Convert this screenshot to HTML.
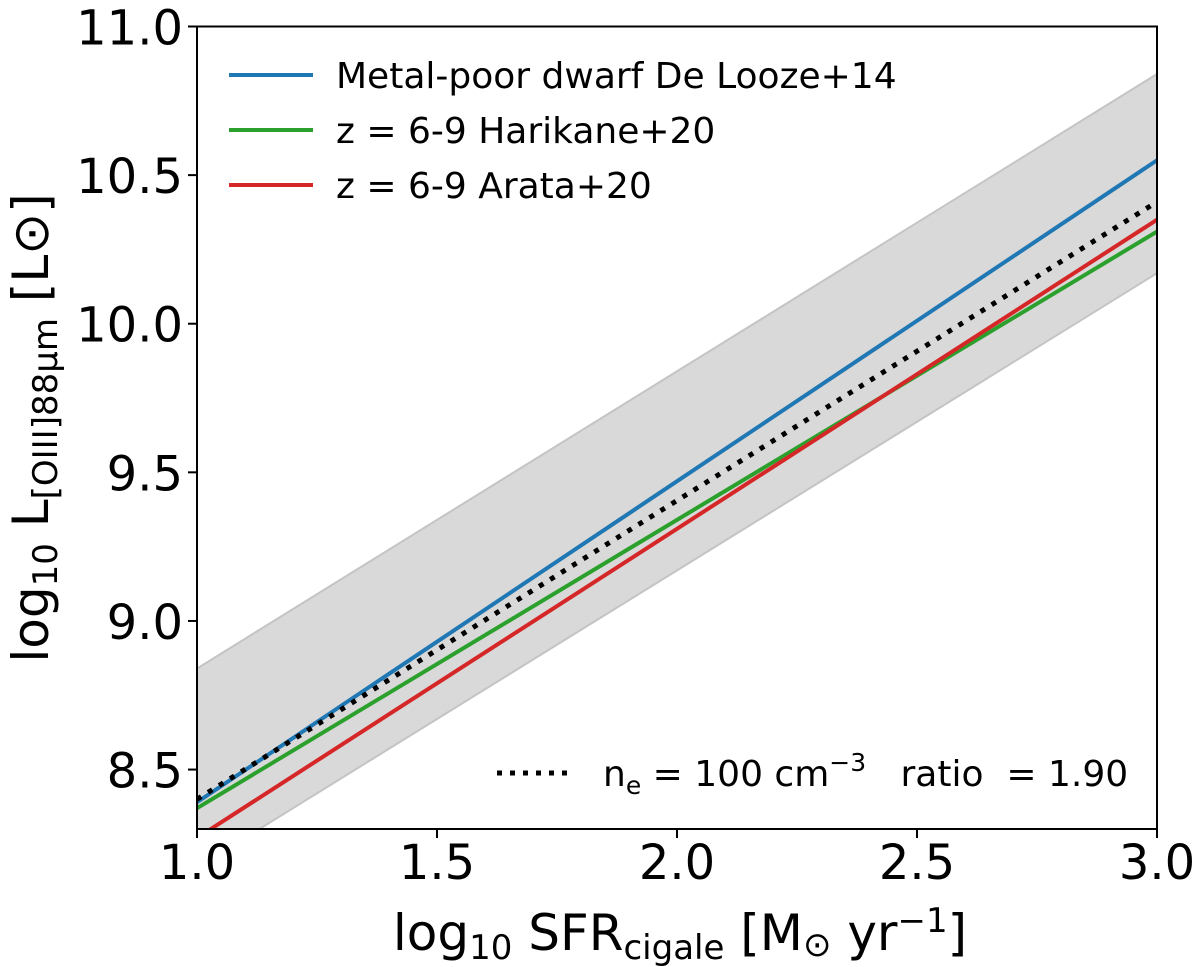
<!DOCTYPE html>
<html><head><meta charset="utf-8"><style>
html,body{margin:0;padding:0;background:#fff;}
svg{display:block;font-family:"DejaVu Sans","Liberation Sans",sans-serif;}
</style></head><body>
<svg id="chart" width="1200" height="967" viewBox="0 0 1200 967"></svg>
<script>
const xTicks=[1.0,1.5,2.0,2.5,3.0];
const yTicks=[8.5,9.0,9.5,10.0,10.5,11.0];
const lineX=[1.0,3.0];
const blueY=[8.39,10.55];
const greenY=[8.37,10.31];
const redY=[8.27,10.35];
const dottedY=[8.40,10.41];
const bandUpper=[8.84,10.84];
const bandLower=[8.17,10.17];
const X0=197,X1=1157,Y0=829,Y1=26.5,XMIN=1.0,XMAX=3.0,YMIN=8.3,YMAX=11.0;
const sx=v=>X0+(v-XMIN)/(XMAX-XMIN)*(X1-X0);
const sy=v=>Y0-(v-YMIN)/(YMAX-YMIN)*(Y0-Y1);
const NS="http://www.w3.org/2000/svg";
const svg=document.getElementById('chart');
function mk(t,a,p){const e=document.createElementNS(NS,t);for(const k in a)e.setAttribute(k,a[k]);(p||svg).appendChild(e);return e;}
const defs=mk('defs',{});
const cp=mk('clipPath',{id:'clip'},defs);
mk('rect',{x:X0,y:Y1,width:X1-X0,height:Y0-Y1},cp);
const g=mk('g',{'clip-path':'url(#clip)'});
let pts=lineX.map((x,i)=>sx(x)+','+sy(bandUpper[i])).concat(lineX.map((x,i)=>sx(x)+','+sy(bandLower[i])).reverse());
const band=mk('polygon',{points:pts.join(' '),fill:'#d9d9d9',stroke:'#c4c4c4','stroke-width':2},g);


function line(ys,color,name,extra){const l=mk('polyline',Object.assign({points:lineX.map((x,i)=>sx(x)+','+sy(ys[i])).join(' '),fill:'none',stroke:color,'stroke-width':4},extra||{}),g);

}
line(blueY,'#1f77b4','de-looze-line');
line(greenY,'#2ca02c','harikane-line');
line(redY,'#d62728','arata-line');
line(dottedY,'#000','ne100-dotted-line',{'stroke-width':5,'stroke-dasharray':'5 8'});
const frame=mk('rect',{x:X0,y:Y1,width:X1-X0,height:Y0-Y1,fill:'none',stroke:'#000','stroke-width':2});


xTicks.forEach(v=>{mk('line',{x1:sx(v),x2:sx(v),y1:Y0,y2:Y0+9,stroke:'#000','stroke-width':2});
const t=mk('text',{x:sx(v),y:Y0+50,'font-size':48,'text-anchor':'middle'});t.textContent=v.toFixed(1);

});
yTicks.forEach(v=>{mk('line',{x1:X0-9,x2:X0,y1:sy(v),y2:sy(v),stroke:'#000','stroke-width':2});
const t=mk('text',{x:X0-14,y:sy(v)+18,'font-size':48,'text-anchor':'end'});t.textContent=v.toFixed(1);

});
</script>
<svg style="position:absolute;left:0;top:0" width="1200" height="967">
<g font-family="DejaVu Sans, Liberation Sans, sans-serif">
<line x1="229" x2="313" y1="75" y2="75" stroke="#1f77b4" stroke-width="4"/>
<text x="336" y="88" font-size="36">Metal-poor dwarf De Looze+14</text>
<line x1="229" x2="313" y1="130" y2="130" stroke="#2ca02c" stroke-width="4"/>
<text x="336" y="143" font-size="36">z = 6-9 Harikane+20</text>
<line x1="229" x2="313" y1="185" y2="185" stroke="#d62728" stroke-width="4"/>
<text x="336" y="198" font-size="36">z = 6-9 Arata+20</text>
</g>
<g font-family="DejaVu Sans, Liberation Sans, sans-serif">
<line x1="497" x2="570" y1="773" y2="773" stroke="#000" stroke-width="5" stroke-dasharray="5 8"/>
<text x="603" y="786" font-size="36" xml:space="preserve">n<tspan font-size="25" dy="8">e</tspan><tspan dy="-8"> = 100 cm</tspan><tspan font-size="25" dy="-15">−3</tspan><tspan dy="15">   ratio  = 1.90</tspan></text>
</g>
<text x="680" y="950" font-size="50" text-anchor="middle" font-family="DejaVu Sans, Liberation Sans, sans-serif">log<tspan font-size="34" dy="9">10</tspan><tspan dy="-9"> SFR</tspan><tspan font-size="34" dy="9">cigale</tspan><tspan dy="-9"> [M</tspan><tspan font-size="34" dy="6">⊙</tspan><tspan dy="-6"> yr</tspan><tspan font-size="34" dy="-18">−1</tspan><tspan dy="18">]</tspan></text>
<text transform="translate(48,428) rotate(-90)" font-size="50" text-anchor="middle" font-family="DejaVu Sans, Liberation Sans, sans-serif">log<tspan font-size="34" dy="9">10</tspan><tspan dy="-9"> L</tspan><tspan font-size="34" dy="9">[OIII]88μm</tspan><tspan dy="-9">  [L⊙]</tspan></text>
</svg>
</body></html>
